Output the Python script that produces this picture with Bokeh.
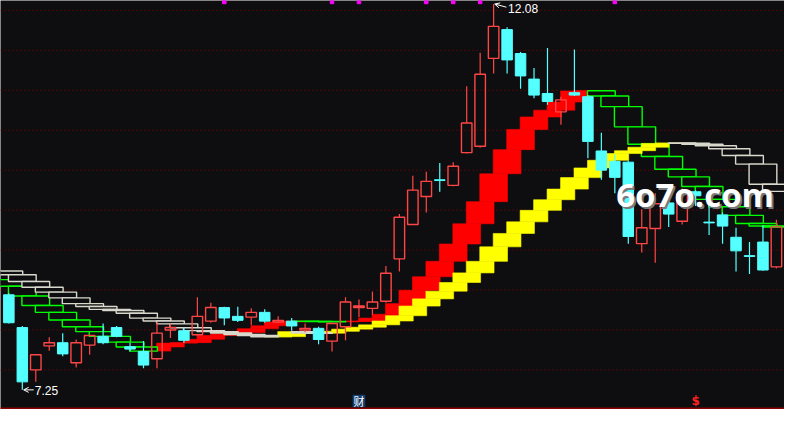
import numpy as np
from bokeh.plotting import figure
from bokeh.models import ColumnDataSource, Range1d, Span, Arrow, OpenHead
from bokeh.core.properties import value
from bokeh.embed import file_html
from bokeh.resources import INLINE

# daily candles
opens = [8.44, 8.03, 7.50, 7.80, 7.84, 7.59, 7.81, 7.92, 8.03, 7.79,
         7.73, 7.64, 8.00, 7.99, 7.94, 8.11, 8.28, 8.17, 8.16, 8.22,
         8.10, 8.11, 8.00, 8.02, 7.86, 8.04, 8.28, 8.27, 8.36, 8.89,
         9.32, 9.67, 9.88, 9.81, 10.22, 10.30, 11.40, 11.76, 11.46, 11.14,
         10.96, 10.73, 10.97, 10.92, 10.24, 10.11, 10.10, 9.08, 9.27, 9.59,
         9.36, 9.73, 9.35, 9.44, 9.16, 8.93, 9.10, 8.79]
highs = [8.46, 8.05, 7.69, 7.91, 7.96, 7.88, 7.93, 8.08, 8.05, 7.84,
         7.86, 8.10, 8.08, 8.03, 8.41, 8.34, 8.29, 8.29, 8.27, 8.26,
         8.17, 8.15, 8.08, 8.04, 8.09, 8.41, 8.38, 8.48, 8.80, 9.45,
         9.93, 9.98, 10.09, 10.10, 11.05, 11.47, 12.08, 11.79, 11.48, 11.28,
         11.53, 10.92, 11.51, 10.94, 10.47, 10.20, 10.12, 9.51, 9.71, 9.80,
         9.77, 9.75, 9.64, 9.47, 9.28, 9.10, 9.31, 9.38]
lows = [8.08, 7.25, 7.35, 7.74, 7.67, 7.53, 7.69, 7.82, 7.91, 7.73,
        7.52, 7.52, 7.90, 7.84, 7.93, 8.09, 8.06, 8.10, 8.06, 8.09,
        8.09, 7.99, 7.97, 7.82, 7.73, 7.87, 8.16, 8.19, 8.34, 8.73,
        9.32, 9.47, 9.73, 9.80, 10.21, 10.28, 11.21, 11.21, 11.02, 10.90,
        10.82, 10.57, 10.93, 10.15, 9.88, 9.71, 9.08, 8.97, 8.84, 9.29,
        9.32, 9.55, 9.19, 9.08, 8.73, 8.70, 8.74, 8.77]
closes = [8.09, 7.35, 7.69, 7.84, 7.70, 7.84, 7.93, 7.84, 7.92, 7.76,
          7.56, 7.96, 8.03, 7.87, 8.17, 8.28, 8.15, 8.12, 8.22, 8.11,
          8.12, 8.05, 8.02, 7.88, 8.08, 8.35, 8.30, 8.35, 8.71, 9.41,
          9.75, 9.86, 9.87, 10.05, 10.59, 11.20, 11.80, 11.38, 11.18, 10.94,
          10.86, 10.88, 10.94, 10.36, 10.00, 9.91, 9.17, 9.28, 9.58, 9.45,
          9.71, 9.68, 9.34, 9.30, 8.99, 8.92, 8.75, 9.29]

# the two stepped lines, starting one bar before the first candle
ma_fast = [8.630, 8.546, 8.425, 8.305, 8.220, 8.124, 8.040, 7.979, 7.919, 7.847,
           7.787, 7.735, 7.787, 7.835, 7.841, 7.883, 7.931, 7.949, 7.967, 8.016,
           8.052, 8.100, 8.110, 8.107, 8.105, 8.102, 8.106, 8.112, 8.148, 8.196,
           8.329, 8.497, 8.666, 8.859, 9.076, 9.329, 9.606, 9.955, 10.257, 10.510,
           10.666, 10.751, 10.853, 10.991, 10.994, 10.928, 10.795, 10.542, 10.325, 10.172,
           10.012, 9.916, 9.795, 9.634, 9.542, 9.434, 9.332, 9.301, 9.289]
ma_slow = [8.738, 8.690, 8.606, 8.534, 8.473, 8.401, 8.329, 8.293, 8.257, 8.244,
           8.208, 8.148, 8.112, 8.076, 8.028, 7.991, 7.979, 7.961, 7.943, 7.931,
           7.913, 7.916, 7.979, 7.961, 7.959, 7.983, 8.010, 8.034, 8.064, 8.112,
           8.178, 8.299, 8.389, 8.485, 8.594, 8.714, 8.859, 9.040, 9.208, 9.353,
           9.497, 9.630, 9.763, 9.907, 10.028, 10.124, 10.208, 10.244, 10.287, 10.335,
           10.341, 10.337, 10.325, 10.305, 10.269, 10.184, 10.076, 9.823, 9.735]

flag_bars = [16, 24, 26, 31, 33, 35, 45]   # magenta marks along the top
cai_bar = 26                               # the "财" tag
dollar_bar = 51                            # the "$" tag
grid_levels = [7.5, 8.0, 8.5, 9.0, 9.5, 10.0, 10.5, 11.0, 11.5, 12.0]

BG = "#0e0e10"
RED = "#ff4646"
CYAN = "#54ffff"

o = np.array(opens)
h = np.array(highs)
l = np.array(lows)
c = np.array(closes)
bars = np.arange(len(o))
up = c >= o
body_top = np.maximum(o, c)
body_bot = np.minimum(o, c)

y_lo, y_hi = 7.004, 12.124
p = figure(width=784, height=409, x_range=Range1d(-0.62, 57.6), y_range=Range1d(y_lo, y_hi),
           output_backend="svg", toolbar_location=None, tools="", min_border=0,
           x_axis_type=None, y_axis_type=None, background_fill_color=BG,
           border_fill_color=BG, outline_line_color=None)
p.grid.visible = False

for lvl in grid_levels:
    p.add_layout(Span(location=lvl, dimension="width", line_color="#8a0000",
                      line_width=1, line_dash="1 3", level="underlay"))
p.add_layout(Span(location=y_lo + 0.012, dimension="width", line_color="#8c0000",
                  line_width=2, level="underlay"))


def draw_steps(vals, fill, edge):
    v = np.asarray(vals, dtype=float)
    x = (np.arange(len(v)) - 1)[1:]
    prev, cur = v[:-1], v[1:]
    rising = cur > prev
    d = dict(left=x - 1.03, right=x + 1.03,
             bottom=np.minimum(prev, cur), top=np.maximum(prev, cur))
    filled = ColumnDataSource({k: a[rising] for k, a in d.items()})
    hollow = ColumnDataSource({k: a[~rising] for k, a in d.items()})
    p.quad(left="left", right="right", top="top", bottom="bottom", source=filled,
           fill_color=fill, line_color=fill, line_width=0.6)
    p.quad(left="left", right="right", top="top", bottom="bottom", source=hollow,
           fill_color=BG, line_color=edge, line_width=1.4)


draw_steps(ma_fast, "#ff0000", "#00ff00")
draw_steps(ma_slow, "#ffff00", "#d8d8cc")

# candles
colors = np.where(up, RED, CYAN)
p.segment(x0=bars, y0=h, x1=bars, y1=body_top, line_color=list(colors), line_width=1.2)
p.segment(x0=bars, y0=body_bot, x1=bars, y1=l, line_color=list(colors), line_width=1.2)
p.vbar(x=bars[up], top=body_top[up], bottom=body_bot[up], width=0.78,
       fill_color=None, line_color=RED, line_width=1.4)
p.vbar(x=bars[~up], top=body_top[~up], bottom=body_bot[~up], width=0.78,
       fill_color=CYAN, line_color=CYAN, line_width=1)

# high / low tags
hi_i, lo_i = int(h.argmax()), int(l.argmin())
p.add_layout(Arrow(end=OpenHead(size=5, line_color="white", line_width=1),
                   x_start=hi_i + 0.95, y_start=h[hi_i] - 0.04, x_end=hi_i + 0.08, y_end=h[hi_i],
                   line_color="white", line_width=1))
p.add_layout(Arrow(end=OpenHead(size=5, line_color="white", line_width=1),
                   x_start=lo_i + 0.85, y_start=l[lo_i], x_end=lo_i + 0.1, y_end=l[lo_i],
                   line_color="white", line_width=1))
p.text(x=[hi_i + 1.07], y=[h[hi_i]], text=[f"{h[hi_i]:.2f}"], text_color="white",
       text_font=value("Liberation Sans"), text_font_size="12px",
       text_baseline="middle", y_offset=4)
p.text(x=[lo_i + 0.93], y=[l[lo_i]], text=[f"{l[lo_i]:.2f}"], text_color="white",
       text_font=value("Liberation Sans"), text_font_size="12px",
       text_baseline="middle", y_offset=1)

# marks along the top and bottom
p.scatter(x=flag_bars, y=[y_hi - 0.018] * len(flag_bars), marker="square", size=3.5,
          color="#ff00ff")
p.quad(left=[cai_bar - 0.47], right=[cai_bar + 0.47], bottom=[y_lo + 0.03], top=[y_lo + 0.185],
       fill_color="#143c6e", line_color=None)
p.text(x=[cai_bar], y=[y_lo + 0.107], text=["财"], text_color="white",
       text_font=value("Noto Sans CJK SC"), text_font_size="11px",
       text_align="center", text_baseline="middle")
p.text(x=[dollar_bar], y=[y_lo + 0.02], text=["$"], text_color="#ff2020",
       text_font=value("DejaVu Sans"), text_font_style="bold", text_font_size="12px",
       text_align="center", text_baseline="bottom")

# watermark
for dx, col in ((2, "#7a7a7a"), (0, "white")):
    p.text(x=[45.1], y=[9.69], text=["6o7o.com"], text_color=col,
           text_font=value("Open Sans"), text_font_style="bold", text_font_size="33px",
           text_baseline="alphabetic", x_offset=dx, y_offset=dx)

open("out.html", "w").write(file_html(p, INLINE))
